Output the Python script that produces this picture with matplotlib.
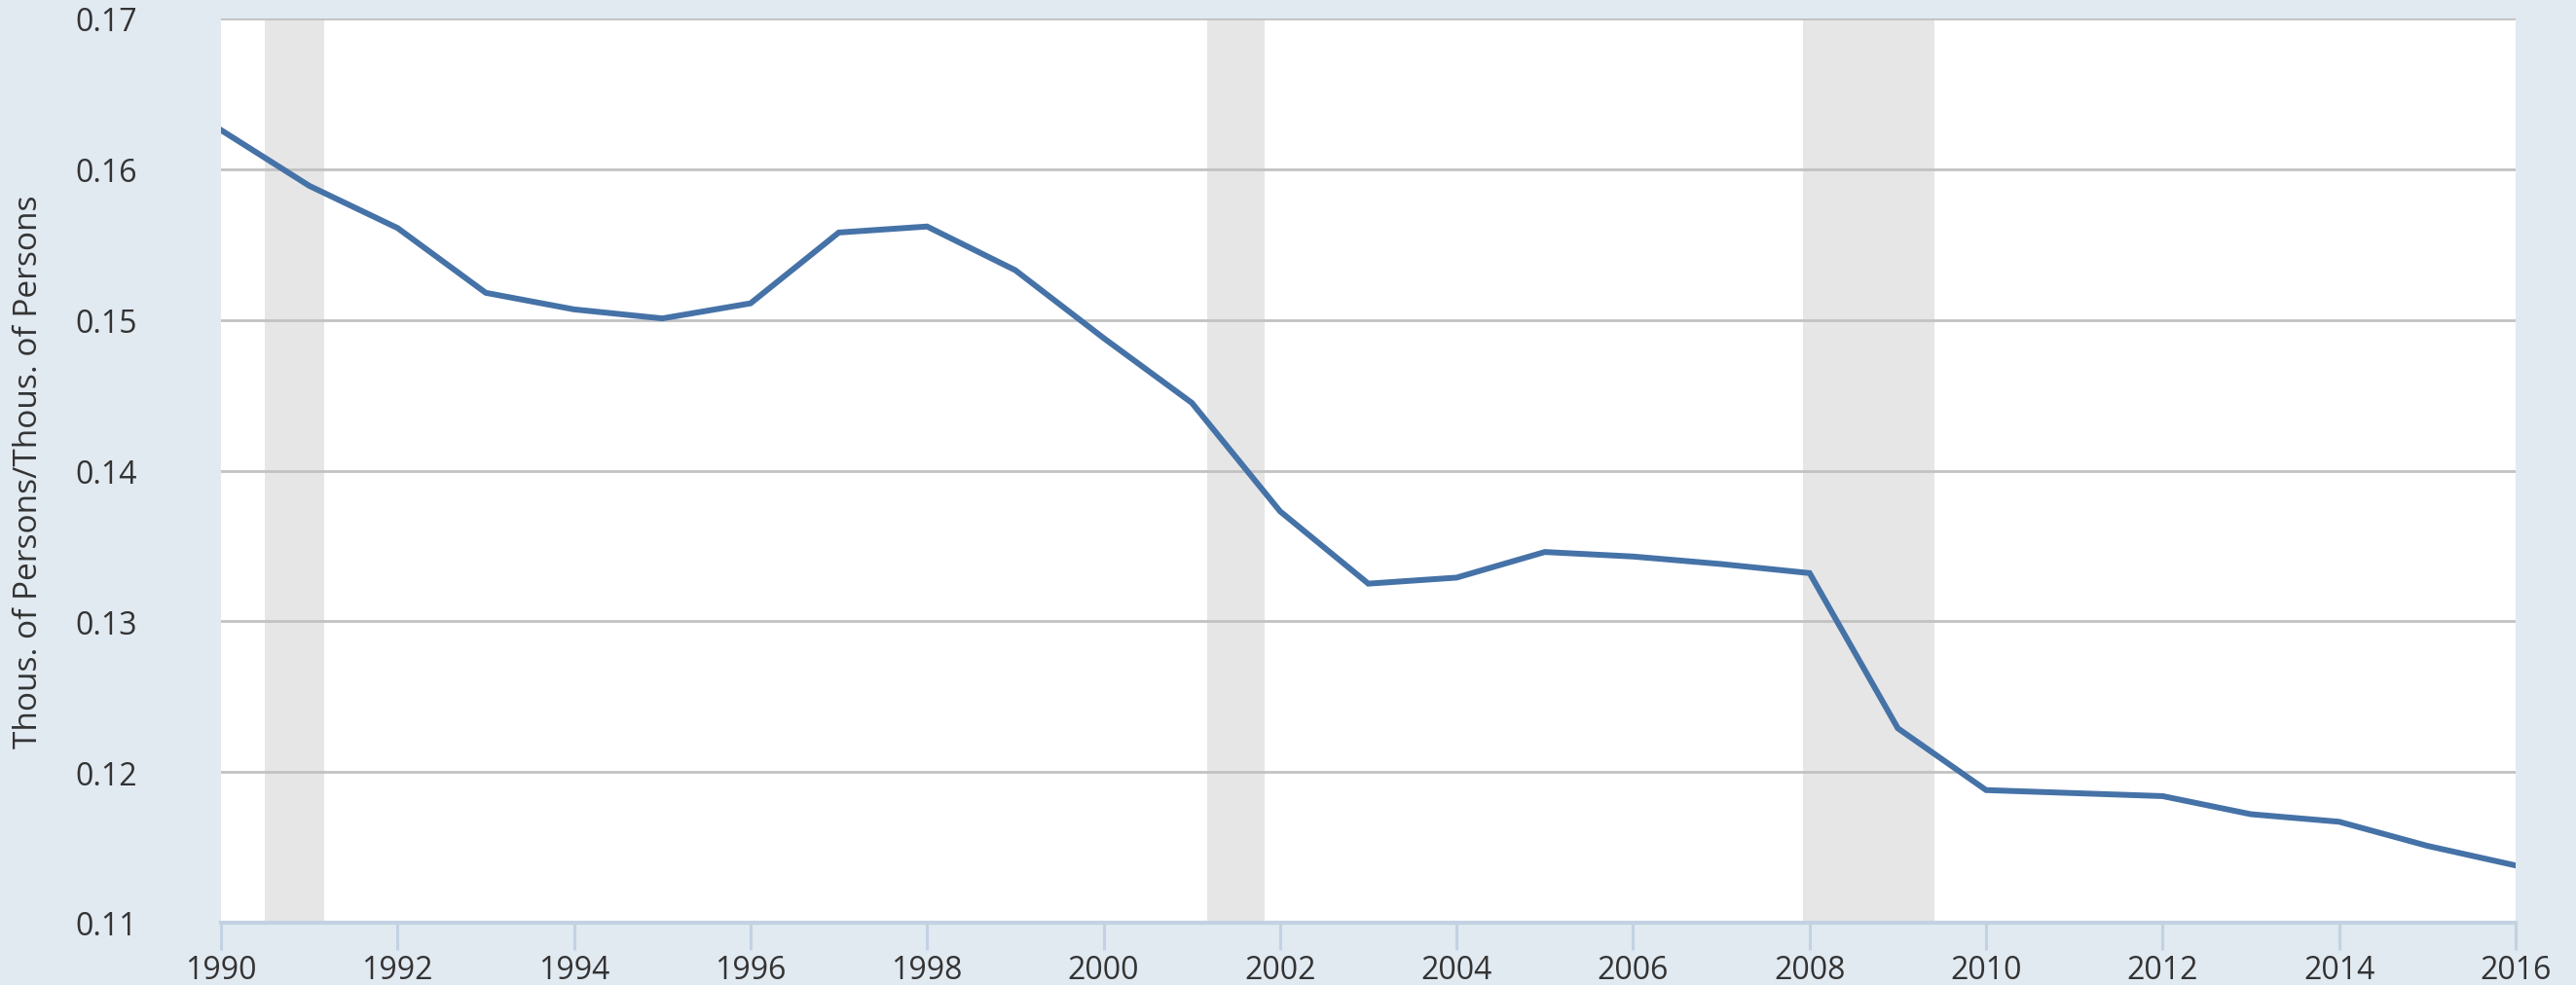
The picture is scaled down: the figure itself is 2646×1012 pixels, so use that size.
import matplotlib
matplotlib.use("Agg")
import matplotlib.pyplot as plt
import numpy as np

years = list(range(1990, 2017))
values = [0.1626, 0.1589, 0.1561, 0.1518, 0.1507, 0.1501, 0.1511, 0.1558, 0.1562,
          0.1533, 0.1488, 0.1445, 0.1373, 0.1325, 0.1329, 0.1346, 0.1343, 0.1338,
          0.1332, 0.1229, 0.1188, 0.1186, 0.1184, 0.1172, 0.1167, 0.1151, 0.1138]
recessions = [(1990.5, 1991.17), (2001.17, 2001.83), (2007.92, 2009.42)]
xticks = list(range(1990, 2017, 2))
yticks = [0.11, 0.12, 0.13, 0.14, 0.15, 0.16, 0.17]
ylabel = "Thous. of Persons/Thous. of Persons"

plt.rcParams['font.family'] = ['Open Sans', 'DejaVu Sans']

bg = '#e1e9f1'
fig = plt.figure(figsize=(26.46, 10.1295), dpi=100, facecolor=bg)
ax = fig.add_axes([227/2646, 1-949/1013, (2584-227)/2646, (949-20)/1013])
ax.set_facecolor('white')

for a, b in recessions:
    ax.axvspan(a, b, color='#e6e6e6', zorder=0.5, lw=0)

ax.plot(years, values, color='#4572a7', lw=4.3, zorder=3, solid_joinstyle='miter')

ax.set_xlim(1990, 2016)
ax.set_ylim(0.11, 0.17)
ax.set_yticks(yticks)
ax.set_yticklabels([f"{v:.2f}" for v in yticks])
ax.set_xticks(xticks)
ax.set_xticklabels([str(x) for x in xticks])

ax.yaxis.grid(True, color='#c2c2c2', lw=2.0, zorder=1)
ax.set_axisbelow(True)
for s in ['left', 'right', 'top']:
    ax.spines[s].set_visible(False)
ax.spines['bottom'].set_color('#c3d2e2')
ax.spines['bottom'].set_linewidth(3)
ax.spines['bottom'].set_zorder(4)

ax.tick_params(axis='y', length=0, pad=62, labelsize=23, labelcolor='#333333')
ax.tick_params(axis='x', length=20, width=2.2, color='#c3d2e2', pad=3,
               labelsize=23, labelcolor='#333333')

fig.text(30/2646, 1-485/1013, ylabel, rotation=90, ha='center', va='center',
         fontsize=24, color='#333333')

fig.savefig('out.png', dpi=100, facecolor=bg)
